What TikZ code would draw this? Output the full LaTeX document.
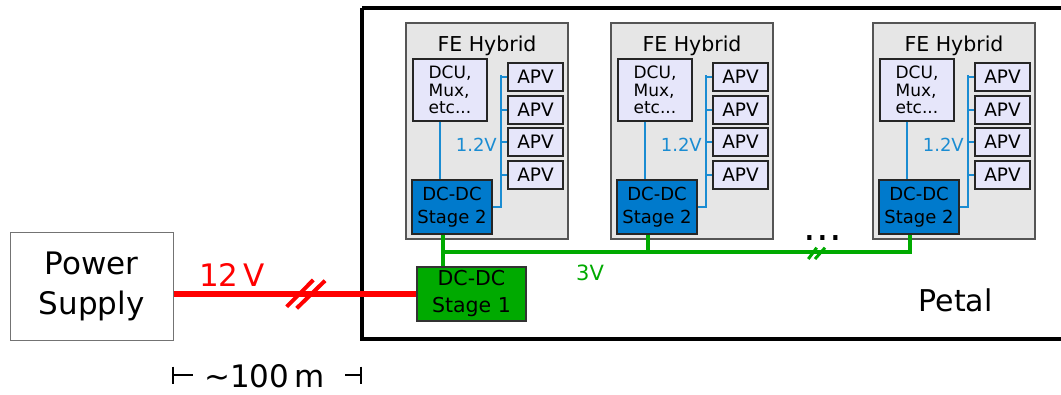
\documentclass[tikz,border=0pt]{standalone}
\usepackage{fontspec}
\setmainfont{DejaVu Sans}
\definecolor{hybfill}{RGB}{230,230,230}
\definecolor{hybdraw}{RGB}{85,85,85}
\definecolor{chipfill}{RGB}{230,230,250}
\definecolor{stagetwo}{RGB}{0,122,204}
\definecolor{busblue}{RGB}{26,140,210}
\definecolor{railgreen}{RGB}{0,170,0}
\definecolor{railred}{RGB}{255,0,0}
\newcommand\fsz[2]{\fontsize{#1}{#2}\selectfont}
\begin{document}
\begin{tikzpicture}[x=1pt,y=-1pt,
  hybrid/.style={draw=hybdraw,fill=hybfill,line width=1.4pt,inner sep=0pt,
    minimum width=162pt,minimum height=216pt},
  chip/.style={draw=black!85,fill=chipfill,line width=1.3pt,inner sep=0pt},
  apvbox/.style={chip,minimum width=55pt,minimum height=28pt,font=\fsz{18.5}{20}},
  dcubox/.style={chip,minimum width=74pt,minimum height=62pt,align=left,font=\fsz{17}{17.5}},
  stagetwobox/.style={draw=black!85,fill=stagetwo,line width=1.3pt,inner sep=0pt,
    minimum width=80pt,minimum height=54pt,align=center,font=\fsz{18}{23.5}},
  stageonebox/.style={draw=black!80,fill=railgreen,line width=1.2pt,inner sep=0pt,
    minimum width=109pt,minimum height=54pt,align=center,font=\fsz{20.5}{27}},
  bus/.style={draw=busblue,line width=1.5pt},
  rail/.style={draw=railgreen,line width=4.5pt},
  feed/.style={draw=railred,line width=5.5pt},
  tick/.style={draw=black,line width=1.5pt}]
\clip (0,0) rectangle (1061,394);
\useasboundingbox (0,0) rectangle (1061,394);

% petal outline
\draw[line width=4pt] (362,8) -- (362,339) -- (1070,339) (362,8) -- (1070,8);
\node[anchor=base west,font=\fsz{30}{30}] (petal) at (915,311) {Petal};

% front-end hybrids
\foreach \ox/\k in {0/a,205/b,467/c}{
  \node[hybrid] (h\k) at (487+\ox,131) {};
  \node[anchor=base,font=\fsz{20.5}{22}] (t\k) at (487+\ox,51) {FE Hybrid};
  \node[dcubox] (d\k) at (450+\ox,90) {DCU,\\Mux,\\etc...};
  \node[apvbox] (a\k1) at (535.5+\ox,77) {APV};
  \node[apvbox] (a\k2) at (535.5+\ox,110) {APV};
  \node[apvbox] (a\k3) at (535.5+\ox,142) {APV};
  \node[apvbox] (a\k4) at (535.5+\ox,175) {APV};
  \node[stagetwobox] (s\k) at (452+\ox,207) {DC-DC\\Stage 2};
  \coordinate (bus\k) at (501+\ox,207);
  \coordinate (bustop\k) at (501+\ox,75);
  \coordinate (dl\k) at (440+\ox,0);
  \coordinate (g\k) at (443+\ox,252);
  \draw[bus] (s\k.east) -- (bus\k) -- (bustop\k);
  \foreach \j in {1,2,3,4}{
    \draw[bus] (a\k\j.west -| bus\k) -- (a\k\j.west);
  }
  \draw[bus] (d\k.south -| dl\k) -- (s\k.north -| dl\k);
  \node[anchor=base east,text=busblue,inner sep=0pt,font=\fsz{18}{20}] (v\k) at (497+\ox,151) {1.2V};
}

% first conversion stage and 3 V distribution
\node[stageonebox] (s1) at (471.5,294) {DC-DC\\Stage 1};
\draw[rail] (s1.north -| ga) -- (ga) -- (gc) -- (sc.south -| gc);
\draw[rail] (sa.south -| ga) -- (ga);
\draw[rail] (sb.south -| gb) -- (gb);
\draw[railgreen,line width=3pt] (808.3,259) -- (816.7,247.7) (815,259) -- (825,247.7);
\node[anchor=base west,text=railgreen,font=\fsz{21}{22},inner sep=0pt] (v3) at (576,280) {3V};
\node[anchor=base,font=\fsz{40}{40},inner sep=0pt] (dots) at (823,240) {...};

% power supply and 12 V cable
\node[draw=black!55,line width=1pt,minimum width=163pt,minimum height=108pt,
  align=center,font=\fsz{31}{40},inner sep=0pt] (ps) at (91.5,286) {Power\\Supply};
\draw[feed] (ps.east |- s1.west) -- (s1.west);
\draw[railred,line width=4pt] (286.7,306.7) -- (313.3,280) (296.7,308.3) -- (325,280.7);
\node[anchor=base west,text=railred,font=\fsz{31}{32},inner sep=0pt] (v12) at (199,286) {12\,V};

% cable length
\node[anchor=base west,font=\fsz{31}{32},inner sep=0pt] (len) at (204,387) {\textasciitilde100\,m};
\coordinate (lenl) at (173,375);
\coordinate (lenr) at (361,375);
\draw[tick] (173,366.5) -- (173,384) (lenl) -- (193,375);
\draw[tick] (361,366.5) -- (361,384) (lenr) -- (345,375);
\end{tikzpicture}
\end{document}
